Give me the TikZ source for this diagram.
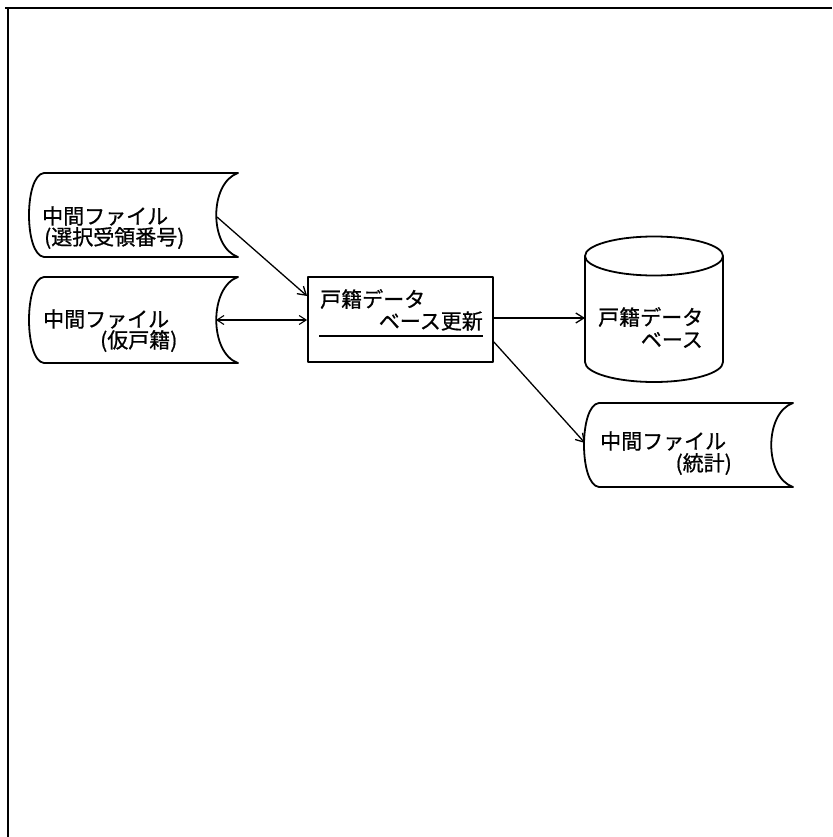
\documentclass[tikz,border=0pt]{standalone}
\usepackage{fontspec}
\newfontfamily\cjk{Noto Sans CJK JP}[FakeBold=0.8]
\usetikzlibrary{arrows.meta}
\tikzset{
  shapeline/.style={line width=1.8pt, line join=round},
  conn/.style={line width=1.3pt, -{Straight Barb[length=8pt,width=10pt,line width=1.3pt]}},
  biconn/.style={line width=1.1pt, {Straight Barb[length=7pt,width=9pt,line width=1.1pt]}-{Straight Barb[length=7pt,width=9pt,line width=1.1pt]}},
  lbl/.style={font=\cjk\fontsize{21}{22}\selectfont, inner sep=0pt},
}
% file (storage) shape: #1 = left extreme x, #2 = top y, #3 = right x, #4 = bottom y
\newcommand{\filestore}[4]{%
  \draw[shapeline] (#1+14,#2) -- (#3,#2)
    .. controls (#3-29,#2+10) and (#3-29,#4-10) .. (#3,#4)
    -- (#1+14,#4)
    .. controls (#1-6,#4-2) and (#1-6,#2+2) .. cycle;}
\begin{document}
\begin{tikzpicture}[x=1pt,y=-1pt]
\useasboundingbox (0,0) rectangle (832,837);
% outer frame (top and left only)
\draw[line width=2.2pt] (5,8) -- (832,8);
\draw[line width=2.2pt] (8,8) -- (8,837);

% file 1
\filestore{30}{173}{238}{257}
\node[lbl, anchor=west] (f1a) at (42,216) {中間ファイル};
\node[lbl, anchor=west] (f1b) at (44,238) {(選択受領番号)};
\coordinate (f1out) at (217,217);

% file 2
\filestore{30}{277}{238}{363}
\node[lbl, anchor=west] (f2a) at (43,319) {中間ファイル};
\node[lbl, anchor=west] (f2b) at (100,341) {(仮戸籍)};
\coordinate (f2io) at (216,320);

% process box
\node[draw, shapeline, minimum width=185pt, minimum height=85pt, inner sep=0pt] (proc) at (400.5,319.5) {};
\node[lbl, anchor=west] (pa) at (320,299) {戸籍データ};
\node[lbl, anchor=east] (pb) at (483,321) {ベース更新};
\draw[line width=1.3pt] (319,336) -- (483,336);

% database cylinder
\draw[shapeline] (585,256) -- (585,362) arc[start angle=180, end angle=0, x radius=69, y radius=20] -- (723,256);
\draw[shapeline] (654,256) ellipse[x radius=69, y radius=19.5];
\coordinate (dbin) at (585,318);
\node[lbl, anchor=west] (da) at (598,317) {戸籍データ};
\node[lbl, anchor=east] (db) at (703,340) {ベース};

% file 3
\filestore{585}{403}{793}{487}
\node[lbl, anchor=west] (f3a) at (600,441) {中間ファイル};
\node[lbl, anchor=east] (f3b) at (732,464) {(統計)};
\coordinate (f3in) at (585,443);

% connectors
\draw[conn] (f1out) -- (proc.west |- 0,296);
\draw[biconn] (f2io) -- (proc.west |- f2io);
\draw[conn] (proc.east |- dbin) -- (dbin);
\draw[conn] (proc.east |- 0,342) -- (f3in);
\end{tikzpicture}
\end{document}
